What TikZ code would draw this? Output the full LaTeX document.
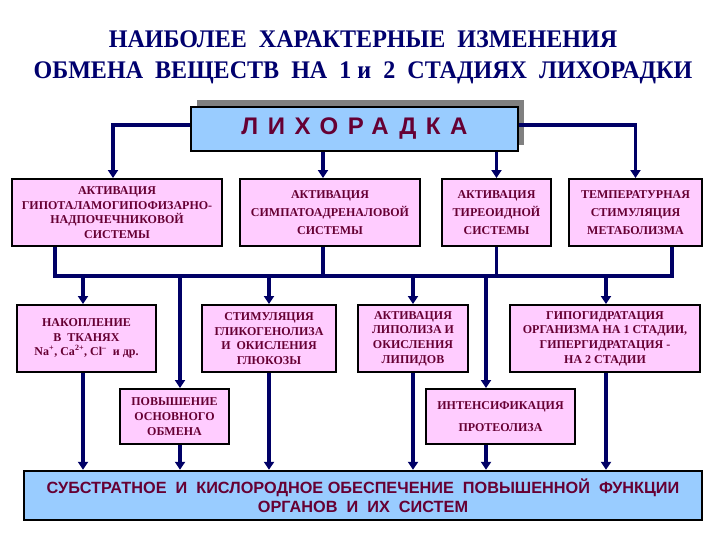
\documentclass[tikz,border=0pt]{standalone}
\usepackage{fontspec}
\setmainfont{Liberation Serif}
\newfontfamily\sansfont{Liberation Sans}
\usetikzlibrary{arrows.meta,calc}

\definecolor{wirenavy}{RGB}{0,0,102}
\definecolor{boxpink}{RGB}{255,204,255}
\definecolor{boxblue}{RGB}{153,204,255}
\definecolor{textplum}{RGB}{102,0,51}
\definecolor{titlenavy}{RGB}{0,0,110}

\tikzset{every picture/.style={line width=0.75pt}}
\tikzset{
  pinkbox/.style={draw=black, line width=1.5pt, fill=boxpink, inner sep=0pt,
    align=center, text=textplum, font=\bfseries\fontsize{9}{11}\selectfont},
  bluebox/.style={draw=black, fill=boxblue, inner sep=0pt, align=center, text=textplum},
  titletext/.style={anchor=base, text=titlenavy,
    font=\bfseries\fontsize{19}{22}\selectfont\addfontfeature{FakeStretch=0.95}},
  wire/.style={draw=wirenavy, line width=2.6pt},
  arr/.style={wire, -{Triangle[length=6pt,width=7.5pt]}},
}

\begin{document}
\begin{tikzpicture}[x=0.75pt,y=0.75pt,yscale=-1,xscale=1]
	\useasboundingbox[fill=white] (0,0) rectangle (720,540);
	
	% Title
	\node[titletext] (title1) at (363,47) {НАИБОЛЕЕ\ \ ХАРАКТЕРНЫЕ\ \ ИЗМЕНЕНИЯ};
	\node[titletext] (title2) at (363,78) {ОБМЕНА\ \ ВЕЩЕСТВ\ \ НА\ \ 1 и\ \ 2\ \ СТАДИЯХ\ \ ЛИХОРАДКИ};
	
	%Shape: Rectangle (shadow)
	\fill[gray] (197,100) rectangle (524,145);
	% Fever
	\node[bluebox, line width=2.2pt, minimum width=245.25pt, minimum height=33pt,
	  font=\sansfont\bfseries\fontsize{18}{20}\selectfont\addfontfeature{LetterSpace=40}] (fever) at (354.5,129) {ЛИХОРАДКА};
	
	% First row
	\node[pinkbox, minimum width=157.5pt, minimum height=50.25pt] (act1) at (117,212.5)
	  {АКТИВАЦИЯ\\ГИПОТАЛАМОГИПОФИЗАРНО-\\НАДПОЧЕЧНИКОВОЙ\\СИСТЕМЫ};
	\node[pinkbox, minimum width=135pt, minimum height=50.25pt, font=\bfseries\fontsize{9}{13.5}\selectfont] (act2) at (330,212.5)
	  {АКТИВАЦИЯ\\СИМПАТОАДРЕНАЛОВОЙ\\СИСТЕМЫ};
	\node[pinkbox, minimum width=81.75pt, minimum height=50.25pt, font=\bfseries\fontsize{9}{13.5}\selectfont] (act3) at (496.5,212.5)
	  {АКТИВАЦИЯ\\ТИРЕОИДНОЙ\\СИСТЕМЫ};
	\node[pinkbox, minimum width=99.75pt, minimum height=50.25pt, font=\bfseries\fontsize{9}{13.5}\selectfont] (act4) at (635.5,212.5)
	  {ТЕМПЕРАТУРНАЯ\\СТИМУЛЯЦИЯ\\МЕТАБОЛИЗМА};
	
	% Second row
	\node[pinkbox, minimum width=104.25pt, minimum height=50.25pt] (nakop) at (86.5,338.5)
	  {НАКОПЛЕНИЕ\\В\ \ ТКАНЯХ\\Na\textsuperscript{+}, Ca\textsuperscript{2+}, Cl\textsuperscript{--}\ \ и др.};
	\node[pinkbox, minimum width=100.5pt, minimum height=50.25pt] (glik) at (269,338.5)
	  {СТИМУЛЯЦИЯ\\ГЛИКОГЕНОЛИЗА\\И\ \ ОКИСЛЕНИЯ\\ГЛЮКОЗЫ};
	\node[pinkbox, minimum width=82.5pt, minimum height=50.25pt] (lip) at (413,338.5)
	  {АКТИВАЦИЯ\\ЛИПОЛИЗА И\\ОКИСЛЕНИЯ\\ЛИПИДОВ};
	\node[pinkbox, minimum width=142.5pt, minimum height=50.25pt] (gidr) at (605,338.5)
	  {ГИПОГИДРАТАЦИЯ\\ОРГАНИЗМА НА 1 СТАДИИ,\\ГИПЕРГИДРАТАЦИЯ -\\НА 2 СТАДИИ};
	
	% Third row
	\node[pinkbox, minimum width=81.75pt, minimum height=41.25pt] (osn) at (174.5,416.5)
	  {ПОВЫШЕНИЕ\\ОСНОВНОГО\\ОБМЕНА};
	\node[pinkbox, minimum width=111.75pt, minimum height=41.25pt, font=\bfseries\fontsize{9}{16}\selectfont] (prot) at (500.5,416.5)
	  {ИНТЕНСИФИКАЦИЯ\\ПРОТЕОЛИЗА};
	
	% Result
	\node[bluebox, line width=1.8pt, minimum width=508.5pt, minimum height=36.75pt,
	  font=\sansfont\bfseries\fontsize{12.2}{14}\selectfont] (result) at (363,495.5)
	  {СУБСТРАТНОЕ\ \ И\ \ КИСЛОРОДНОЕ ОБЕСПЕЧЕНИЕ\ \ ПОВЫШЕННОЙ\ \ ФУНКЦИИ\\ОРГАНОВ\ \ И\ \ ИХ\ \ СИСТЕМ};
	
	% Fever to first row
	\coordinate (in2) at ($(act2.north)+(-7,0)$);
	\draw[arr] ([yshift=-3pt]fever.west) -| ([xshift=-3pt]act1.north);
	\draw[arr] ([yshift=-3pt]fever.east) -| (act4.north);
	\draw[arr] (fever.south -| in2) -- (in2);
	\draw[arr] (fever.south -| act3.north) -- (act3.north);
	
	% Bus
	\coordinate (busL) at (55,276);
	\coordinate (busR) at (672,276);
	\draw[wire] (act1.south -| busL) -- (busL) -- (busR) -- (act4.south -| busR);
	\draw[wire] (act2.south -| in2) -- (in2 |- busL);
	\draw[wire] (act3.south) -- (act3.south |- busL);
	
	% Bus to second and third rows
	\coordinate (toNak) at (83,276);
	\coordinate (toOsn) at (180,276);
	\coordinate (toGlik) at (269,276);
	\coordinate (toLip) at (413,276);
	\coordinate (toProt) at (486,276);
	\coordinate (toGidr) at (606,276);
	\draw[arr] (toNak) -- (toNak |- nakop.north);
	\draw[arr] (toOsn) -- (toOsn |- osn.north);
	\draw[arr] (toGlik) -- (toGlik |- glik.north);
	\draw[arr] (toLip) -- (toLip |- lip.north);
	\draw[arr] (toProt) -- (toProt |- prot.north);
	\draw[arr] (toGidr) -- (toGidr |- gidr.north);
	
	% Down to result
	\draw[arr] (toNak |- nakop.south) -- (toNak |- result.north);
	\draw[arr] (toOsn |- osn.south) -- (toOsn |- result.north);
	\draw[arr] (toGlik |- glik.south) -- (toGlik |- result.north);
	\draw[arr] (toLip |- lip.south) -- (toLip |- result.north);
	\draw[arr] (toProt |- prot.south) -- (toProt |- result.north);
	\draw[arr] (toGidr |- gidr.south) -- (toGidr |- result.north);
	
\end{tikzpicture}
\end{document}
